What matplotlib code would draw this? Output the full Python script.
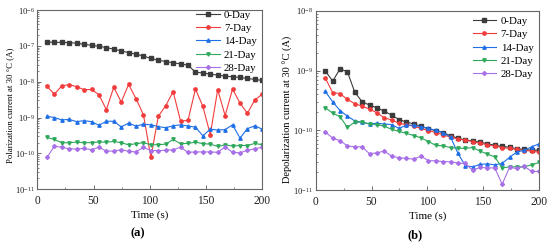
import numpy as np
import matplotlib
matplotlib.use("Agg")
import matplotlib.pyplot as plt
from matplotlib.ticker import FixedLocator, NullFormatter, MultipleLocator

plt.rcParams['font.family'] = ['Liberation Serif', 'DejaVu Serif']
plt.rcParams['mathtext.fontset'] = 'custom'
plt.rcParams['mathtext.rm'] = 'Liberation Serif'
plt.rcParams['mathtext.default'] = 'regular'

time = [8.6, 15.2, 21.8, 28.4, 35.0, 41.6, 48.2, 54.8, 61.4, 68.0,
        74.6, 81.2, 87.8, 94.4, 101.0, 107.6, 114.2, 120.8, 127.4, 134.0,
        140.6, 147.2, 153.8, 160.4, 167.0, 173.6, 180.2, 186.8, 193.4, 200.0]

labels = ["0-Day", "7-Day", "14-Day", "21-Day", "28-Day"]

# polarization current (A)
pol_0 = [1.29e-7, 1.26e-7, 1.26e-7, 1.24e-7, 1.19e-7, 1.11e-7, 1.04e-7, 9.8e-8, 9.0e-8, 8.1e-8,
         7.3e-8, 6.5e-8, 5.9e-8, 5.2e-8, 4.5e-8, 4.0e-8, 3.67e-8, 3.37e-8, 3.16e-8, 2.9e-8,
         1.86e-8, 1.75e-8, 1.64e-8, 1.53e-8, 1.44e-8, 1.38e-8, 1.32e-8, 1.24e-8, 1.16e-8, 1.09e-8]
pol_7 = [7.4e-9, 4.5e-9, 7.7e-9, 8.3e-9, 7.3e-9, 6.0e-9, 6.1e-9, 4.35e-9, 1.67e-9, 7.0e-9,
         2.72e-9, 8.4e-9, 3.37e-9, 1.19e-9, 7.7e-11, 1.09e-9, 2.15e-9, 5.3e-9, 7.9e-10, 8.4e-10,
         6.25e-9, 2.06e-9, 3.37e-10, 6.0e-9, 1.14e-9, 6.25e-9, 2.55e-9, 1.32e-9, 3.1e-9, 4.5e-9]
pol_14 = [1.09e-9, 1.0e-9, 8.6e-10, 8.9e-10, 7.7e-10, 8.2e-10, 7.7e-10, 6.1e-10, 7.9e-10, 7.9e-10,
          5.5e-10, 7.0e-10, 5.8e-10, 6.5e-10, 6.3e-10, 5.6e-10, 5.2e-10, 5.9e-10, 6.3e-10, 5.8e-10,
          5.4e-10, 3.1e-10, 4.75e-10, 4.5e-10, 4.6e-10, 6.3e-10, 2.67e-10, 4.9e-10, 5.9e-10, 4.75e-10]
pol_21 = [2.78e-10, 2.45e-10, 1.98e-10, 1.98e-10, 2.07e-10, 1.98e-10, 2.0e-10, 2.07e-10, 2.07e-10, 2.15e-10,
          1.98e-10, 1.74e-10, 1.86e-10, 2.0e-10, 1.74e-10, 1.74e-10, 1.82e-10, 2.45e-10, 1.86e-10, 1.9e-10,
          2.07e-10, 1.86e-10, 1.82e-10, 1.56e-10, 1.74e-10, 1.6e-10, 1.66e-10, 1.66e-10, 1.9e-10, 1.74e-10]
pol_28 = [7.7e-11, 1.6e-10, 1.48e-10, 1.35e-10, 1.32e-10, 1.38e-10, 1.27e-10, 1.48e-10, 1.16e-10, 1.16e-10,
          1.27e-10, 1.14e-10, 1.1e-10, 1.48e-10, 1.2e-10, 1.2e-10, 1.22e-10, 1.27e-10, 1.48e-10, 1.07e-10,
          1.1e-10, 1.1e-10, 1.1e-10, 1.07e-10, 1.52e-10, 1.07e-10, 1.04e-10, 1.22e-10, 1.35e-10, 1.48e-10]

# depolarization current (A)
dep_0 = [9.9e-10, 6.7e-10, 1.07e-9, 9.6e-10, 4.35e-10, 3.02e-10, 2.65e-10, 2.39e-10, 2.1e-10, 1.8e-10,
         1.52e-10, 1.38e-10, 1.28e-10, 1.17e-10, 1.06e-10, 9.9e-11, 9.2e-11, 8.1e-11, 7.4e-11, 6.85e-11,
         6.7e-11, 6.3e-11, 6.0e-11, 5.6e-11, 5.4e-11, 5.2e-11, 4.9e-11, 4.8e-11, 4.65e-11, 4.65e-11]
dep_7 = [7.5e-10, 4.3e-10, 4.13e-10, 3.3e-10, 2.8e-10, 2.55e-10, 2.27e-10, 1.97e-10, 1.62e-10, 1.5e-10,
         1.31e-10, 1.25e-10, 1.17e-10, 1.08e-10, 9.9e-11, 9.2e-11, 8.4e-11, 7.7e-11, 7.2e-11, 6.85e-11,
         6.5e-11, 6.1e-11, 5.75e-11, 5.45e-11, 5.15e-11, 5.0e-11, 4.8e-11, 4.6e-11, 4.5e-11, 4.3e-11]
dep_14 = [4.5e-10, 3.0e-10, 2.15e-10, 1.73e-10, 1.44e-10, 1.37e-10, 1.28e-10, 1.32e-10, 1.28e-10, 1.25e-10,
          1.08e-10, 1.22e-10, 1.22e-10, 1.15e-10, 1.08e-10, 1.0e-10, 9.2e-11, 7.7e-11, 4.13e-11, 2.55e-11,
          2.45e-11, 2.69e-11, 2.75e-11, 2.65e-11, 2.8e-11, 3.53e-11, 4.35e-11, 4.65e-11, 5.3e-11, 5.95e-11]
dep_21 = [2.4e-10, 1.94e-10, 1.7e-10, 1.12e-10, 1.38e-10, 1.37e-10, 1.28e-10, 1.25e-10, 1.18e-10, 1.04e-10,
          9.6e-11, 8.9e-11, 8.2e-11, 7.5e-11, 6.5e-11, 5.6e-11, 5.5e-11, 5.15e-11, 5.0e-11, 5.0e-11,
          5.15e-11, 4.5e-11, 4.0e-11, 3.6e-11, 2.35e-11, 2.45e-11, 2.45e-11, 2.45e-11, 2.65e-11, 2.9e-11]
dep_28 = [9.4e-11, 7.4e-11, 6.7e-11, 5.5e-11, 5.3e-11, 5.3e-11, 4.07e-11, 4.2e-11, 4.5e-11, 3.7e-11,
          3.48e-11, 3.4e-11, 3.3e-11, 3.7e-11, 3.1e-11, 3.1e-11, 3.0e-11, 2.98e-11, 2.83e-11, 2.8e-11,
          2.13e-11, 2.4e-11, 2.35e-11, 2.35e-11, 1.25e-11, 2.4e-11, 2.3e-11, 2.5e-11, 2.05e-11, 2.05e-11]

colors = ['#3c3c3c', '#f23c3c', '#1f6fe6', '#2fa85c', '#a870e6']
markers = ['s', 'o', '^', 'v', 'D']

fig = plt.figure(figsize=(5.5, 2.44), dpi=100)
ax1 = fig.add_axes([0.0678, 0.2245, 0.409, 0.734])
ax2 = fig.add_axes([0.574, 0.221, 0.406, 0.734])

def style_axes(ax, lo_exp, hi_exp, ylabel, ylsize):
    ax.set_yscale('log')
    ax.set_xlim(0, 200)
    ax.set_ylim(10.0 ** lo_exp, 10.0 ** hi_exp)
    ax.xaxis.set_major_locator(MultipleLocator(50))
    ax.xaxis.set_minor_locator(MultipleLocator(25))
    exps = range(lo_exp, hi_exp + 1)
    ax.yaxis.set_major_locator(FixedLocator([10.0 ** e for e in exps]))
    ax.set_yticklabels([r'$10^{%d}$' % e for e in exps])
    minors = [m * 10.0 ** e for e in range(lo_exp, hi_exp) for m in range(2, 10)]
    ax.yaxis.set_minor_locator(FixedLocator(minors))
    ax.yaxis.set_minor_formatter(NullFormatter())
    ax.tick_params(which='both', direction='in', colors='#555555', labelcolor='#222222')
    ax.tick_params(axis='x', labelsize=8.3, pad=4)
    ax.tick_params(axis='y', labelsize=6.2, pad=2)
    ax.tick_params(which='major', length=3, width=0.6)
    ax.tick_params(which='minor', length=1.6, width=0.5)
    for s in ax.spines.values():
        s.set_linewidth(0.8)
        s.set_color('#666666')
    ax.set_xlabel("Time (s)", fontsize=8, labelpad=2.5)
    ax.set_ylabel(ylabel, fontsize=ylsize)

pol = [pol_0, pol_7, pol_14, pol_21, pol_28]
dep = [dep_0, dep_7, dep_14, dep_21, dep_28]
for i in range(5):
    ms = 2.4 if markers[i] != 'D' else 2.0
    ax1.plot(time, pol[i], color=colors[i], marker=markers[i], ms=ms, lw=0.8, label=labels[i])
    ax2.plot(time, dep[i], color=colors[i], marker=markers[i], ms=ms, lw=0.8, label=labels[i])

style_axes(ax1, -11, -6, "Polarization current at 30 \u00b0C (A)", 6.3)
style_axes(ax2, -11, -8, "Depolarization current at 30 \u00b0C (A)", 7.5)
ax1.yaxis.set_label_coords(-0.101, 0.47)
ax2.yaxis.set_label_coords(-0.102, 0.45)

ax1.legend(loc='upper right', bbox_to_anchor=(1.0, 1.03), frameon=False, fontsize=7.8,
           handlelength=2.2, labelspacing=0.34, borderaxespad=0.1, handletextpad=0.4)
ax2.legend(loc='upper right', bbox_to_anchor=(1.0, 1.0), frameon=False, fontsize=7.8,
           handlelength=2.2, labelspacing=0.34, borderaxespad=0.1, handletextpad=0.4)

fig.text(0.25, 1 - 233 / 244, "(a)", fontsize=9, fontweight='bold', ha='center', va='center')
fig.text(0.755, 1 - 235 / 244, "(b)", fontsize=9, fontweight='bold', ha='center', va='center')

plt.savefig("out.png", dpi=100)
plt.close()
